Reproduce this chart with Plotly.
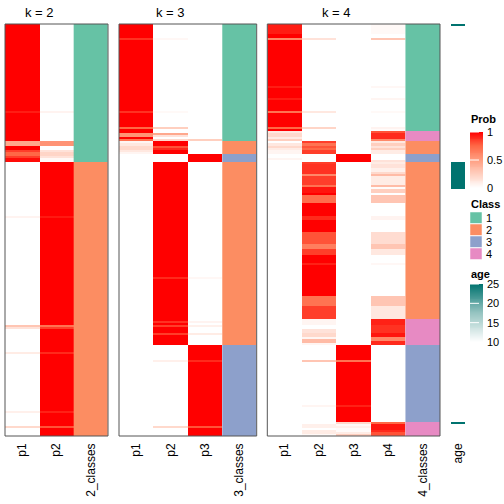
import plotly.graph_objects as go

# ---------------- data (run-length lists: (rows, value)) -------------
N_ROWS = 200

k2_p1 = [(42,1),(1,0.93),(14,1),(2,0.45),(2,1),(1,0.85),(2,0.75),(1,0.85),(2,0.97),
         (26,0),(1,0.06),(52,0),(1,0.3),(1,0.15),(11,0),(1,0.1),(28,0),(1,0.08),(6,0),(1,0.2),(4,0)]
k2_p2 = [(42,0),(1,0.06),(14,0),(2,0.55),(2,0),(1,0.15),(2,0.22),(1,0.15),(2,0.03),
         (26,1),(1,0.94),(52,1),(1,0.7),(1,0.85),(11,1),(1,0.9),(28,1),(1,0.92),(6,1),(1,0.8),(4,1)]
k2_class = [(67,1),(133,2)]

k3_p1 = [(7,1),(1,0.88),(34,1),(1,0.88),(7,1),(1,0.75),(2,1),(2,0.55),(1,1),(1,0.7),
         (1,0.05),(1,0.12),(2,0.2),(1,0.12),(1,0.05),(137,0)]
k3_p2 = [(7,0),(1,0.04),(34,0),(1,0.03),(7,0),(1,0.25),(2,0),(1,0.45),(1,0.15),(1,0),(1,0.2),
         (2,1),(1,0.8),(1,0.9),(2,1),(4,0),
         (56,1),(1,0.9),(20,1),(1,0.88),(1,1),(1,0.85),(3,1),(1,0.85),(5,1),
         (7,0),(1,0.08),(31,0),(1,0.2),(4,0)]
k3_p3 = [(56,0),(1,0.25),(6,0),(4,1),
         (56,0),(1,0.04),(20,0),(1,0.06),(1,0),(1,0.08),(3,0),(1,0.1),(5,0),
         (7,1),(1,0.9),(31,1),(1,0.8),(4,1)]
k3_class = [(57,1),(6,2),(4,3),(89,2),(44,3)]

k4_p1 = [(5,0.93),(2,1),(1,0.6),(22,1),(1,0.93),(5,1),(1,0.93),(5,1),(1,0.7),(7,1),(1,0.75),(1,1),
         (1,0.12),(2,0.2),(1,0.1),(1,0.25),
         (1,0),(1,0.12),(1,0.2),(1,0.1),(2,0.05),
         (2,0),(1,0.05),(1,0),
         (133,0)]
k4_p2 = [(7,0),(1,0.15),(34,0),(1,0.12),(7,0),(1,0.22),(1,0),
         (5,0),
         (1,0.85),(1,0.7),(1,0.8),(1,0.75),(2,0.85),
         (4,0),
         (1,0.85),(5,0.88),(1,0.6),(4,0.85),(1,0.7),(3,0.95),(1,1),(4,0.72),(6,1),(2,0.9),(6,1),
         (6,0.8),(2,0.65),(3,0.85),(4,1),(1,0.92),(15,1),(5,0.7),(6,0.85),
         (3,0.05),(2,0),(2,0.15),(2,0.2),(1,0.05),(2,0.35),(1,0.05),
         (7,0),(1,0.3),(21,0),(1,0.05),(7,0),
         (1,0),(2,0.08),(1,0),(2,0.1),(1,0.03)]
k4_p3 = [(63,0),(4,1),(76,0),(13,0),
         (7,1),(1,0.7),(21,1),(1,0.92),(7,1),
         (1,0.2),(1,0.03),(1,0.08),(2,0.02),(1,0.1),(1,0.25)]
k4_p4 = [(5,0.03),(2,0),(1,0.3),(22,0),(1,0.04),(5,0),(1,0.05),(5,0),(1,0.03),(7,0),(1,0.06),(1,0.02),
         (1,0.8),(3,0.9),(1,0.6),
         (1,0.12),(1,0.25),(1,0.15),(1,0.25),(2,0.1),
         (3,0),(1,0.15),
         (1,0.1),(2,0.15),(2,0.08),(1,0.2),(1,0.35),(4,0.1),(1,0.35),(1,0.02),(2,0.25),(1,0),
         (4,0.3),(6,0),(2,0.06),(6,0),(6,0.18),(2,0.3),(3,0.12),(4,0),(1,0.04),(15,0),(5,0.3),(6,0.12),
         (3,0.92),(4,0.88),(2,0.95),(2,0.6),(2,0.9),
         (37,0),
         (1,0.75),(3,0.95),(1,0.9),(2,0.8)]
k4_class = [(52,1),(5,4),(6,2),(4,3),(76,2),(13,4),(37,3),(7,4)]

age_runs = [(1,25),(66,None),(13,25),(113,None),(1,25),(6,None)]

class_labels = ["1", "2", "3", "4"]
class_colors = ["#66C2A5", "#FC8D62", "#8DA0CB", "#E78AC3"]
prob_ticks = [0, 0.5, 1]
prob_ticktext = ["0", "0.5", "1"]
prob_range = [0, 1]
age_ticks = [10, 15, 20, 25]
age_range = [10, 25]

panels = [
    ("k = 2", ["p1", "p2"], [k2_p1, k2_p2], k2_class, "2_classes"),
    ("k = 3", ["p1", "p2", "p3"], [k3_p1, k3_p2, k3_p3], k3_class, "3_classes"),
    ("k = 4", ["p1", "p2", "p3", "p4"], [k4_p1, k4_p2, k4_p3, k4_p4], k4_class, "4_classes"),
]

# ---------------- helpers -------------
def expand(runs):
    out = []
    for n, v in runs:
        out += [v] * n
    assert len(out) == N_ROWS, len(out)
    return out

W = H = 504
FONT = "Liberation Sans, Arial, sans-serif"
prob_scale = [[0, "#FFFFFF"], [0.25, "rgb(255,207,191)"], [0.5, "rgb(255,158,129)"],
              [0.75, "rgb(255,104,70)"], [1, "#FF0000"]]
age_scale = [[0, "#FFFFFF"], [0.5, "rgb(150,196,193)"], [1, "#00736F"]]
n = len(class_colors)
class_scale = []
for i, c in enumerate(class_colors):
    class_scale += [[i / n, c], [(i + 1) / n, c]]

# pixel geometry
top_px, bot_px = 24, 436
x_domains_px = [(5, 108), (119, 256.7), (267.3, 440), (451, 465)]

def px_x(a, b):
    return [a / W, b / W]

def px_y(top, bottom):
    return [(H - bottom) / H, (H - top) / H]

fig = go.Figure()
rows = list(range(N_ROWS))
axis_names = ["x", "x2", "x3"]
tick_names = []
for idx, (title, pcols, pdata, cdata, cname) in enumerate(panels):
    xa = axis_names[idx]
    npc = len(pcols)
    z = [list(r) for r in zip(*[expand(d) for d in pdata])]
    fig.add_trace(go.Heatmap(z=z, x=list(range(npc)), y=rows, coloraxis="coloraxis",
                             xaxis=xa, yaxis="y", hoverinfo="skip"))
    cz = [[v] for v in expand(cdata)]
    fig.add_trace(go.Heatmap(z=cz, x0=npc, dx=1, y=rows, colorscale=class_scale,
                             zmin=0.5, zmax=n + 0.5, showscale=False,
                             xaxis=xa, yaxis="y", hoverinfo="skip"))
    tick_names.append(pcols + [cname])
    ref = "x domain" if xa == "x" else xa + " domain"
    fig.add_shape(type="rect", xref=ref, yref="y domain", x0=0, x1=1, y0=0, y1=1,
                  line=dict(color="#555555", width=1), fillcolor="rgba(0,0,0,0)")
    fig.add_annotation(text=title, xref=ref, yref="paper", x=npc / (npc + 1) / 2,
                       y=(H - 12) / H, showarrow=False, xanchor="center", yanchor="middle",
                       font=dict(size=13, color="#000000", family=FONT))

age_z = [[v] for v in expand(age_runs)]
fig.add_trace(go.Heatmap(z=age_z, x0=0, dx=1, y=rows, coloraxis="coloraxis2",
                         xaxis="x4", yaxis="y", hoverinfo="skip"))
tick_names.append(["age"])

# ---- gradient legends drawn as tiny heatmaps on their own axes ----
STEPS = 60
prob_grad = [prob_range[0] + (prob_range[1] - prob_range[0]) * (i + 0.5) / STEPS for i in range(STEPS)]
age_grad = [age_range[0] + (age_range[1] - age_range[0]) * (i + 0.5) / STEPS for i in range(STEPS)]
fig.add_trace(go.Heatmap(z=[[v] for v in prob_grad], x0=0, dx=1, y=prob_grad, coloraxis="coloraxis",
                         xaxis="x5", yaxis="y2", hoverinfo="skip"))
fig.add_trace(go.Heatmap(z=[[v] for v in age_grad], x0=0, dx=1, y=age_grad, coloraxis="coloraxis2",
                         xaxis="x6", yaxis="y3", hoverinfo="skip"))

ydom = px_y(top_px, bot_px)
layout = dict(
    width=W, height=H, margin=dict(l=0, r=0, t=0, b=0, autoexpand=False),
    paper_bgcolor="white", plot_bgcolor="white", showlegend=False,
    font=dict(family=FONT, size=12, color="#000000"),
    yaxis=dict(domain=ydom, range=[N_ROWS - 0.5, -0.5], visible=False, fixedrange=True),
    coloraxis=dict(colorscale=prob_scale, cmin=prob_range[0], cmax=prob_range[1], showscale=False),
    coloraxis2=dict(colorscale=age_scale, cmin=age_range[0], cmax=age_range[1], showscale=False),
)
for i, (a, b) in enumerate(x_domains_px):
    key = "xaxis" if i == 0 else f"xaxis{i+1}"
    names = tick_names[i]
    layout[key] = dict(domain=px_x(a, b), anchor="y", tickangle=-90,
                       tickmode="array", tickvals=list(range(len(names))), ticktext=names,
                       range=[-0.5, len(names) - 0.5], automargin=False,
                       showgrid=False, zeroline=False, showline=False, ticks="",
                       ticklabelstandoff=4, tickfont=dict(size=12, family=FONT, color="#000000"),
                       fixedrange=True)

leg_x = (470, 483)
layout["xaxis5"] = dict(domain=px_x(*leg_x), anchor="y2", range=[-0.5, 0.5], visible=False,
                        fixedrange=True)
layout["yaxis2"] = dict(domain=px_y(132, 188), anchor="x5", range=prob_range, side="right",
                        tickvals=prob_ticks, ticktext=prob_ticktext, ticks="", showgrid=False,
                        zeroline=False, showline=False, automargin=False, ticklabelstandoff=3,
                        tickfont=dict(size=11, family=FONT), fixedrange=True)
layout["xaxis6"] = dict(domain=px_x(*leg_x), anchor="y3", range=[-0.5, 0.5], visible=False,
                        fixedrange=True)
layout["yaxis3"] = dict(domain=px_y(284, 342), anchor="x6", range=age_range, side="right",
                        tickvals=age_ticks, ticks="", showgrid=False, zeroline=False,
                        showline=False, automargin=False, ticklabelstandoff=3,
                        tickfont=dict(size=11, family=FONT), fixedrange=True)
fig.update_layout(**layout)

# white dashed tick marks inside the gradient bars
for t in prob_ticks[1:]:
    fig.add_shape(type="line", xref="x5 domain", yref="y2", x0=0, x1=1, y0=t, y1=t,
                  line=dict(color="white", width=1, dash="dash"))
for t in age_ticks[1:]:
    fig.add_shape(type="line", xref="x6 domain", yref="y3", x0=0, x1=1, y0=t, y1=t,
                  line=dict(color="white", width=1, dash="dash"))

# legend titles
for txt, ypx in [("Prob", 119), ("Class", 204), ("age", 274)]:
    fig.add_annotation(text=f"<b>{txt}</b>", xref="paper", yref="paper", x=469 / W,
                       y=(H - ypx) / H, xanchor="left", yanchor="middle", showarrow=False,
                       font=dict(size=11, family=FONT, color="#000000"))

# class legend (categorical)
for i, (lab, col) in enumerate(zip(class_labels, class_colors)):
    y0 = 212 + 12 * i
    fig.add_shape(type="rect", xref="paper", yref="paper", x0=470 / W, x1=482 / W,
                  y0=(H - y0 - 11.5) / H, y1=(H - y0) / H, fillcolor=col,
                  line=dict(color="white", width=0.5))
    fig.add_annotation(text=lab, xref="paper", yref="paper", x=484 / W, y=(H - y0 - 6) / H,
                       xanchor="left", yanchor="middle", showarrow=False,
                       font=dict(size=11, family=FONT, color="#000000"))

fig.write_html("out.html", config={"displayModeBar": False},
               post_script="document.body.style.margin='0';document.body.style.padding='0';")
